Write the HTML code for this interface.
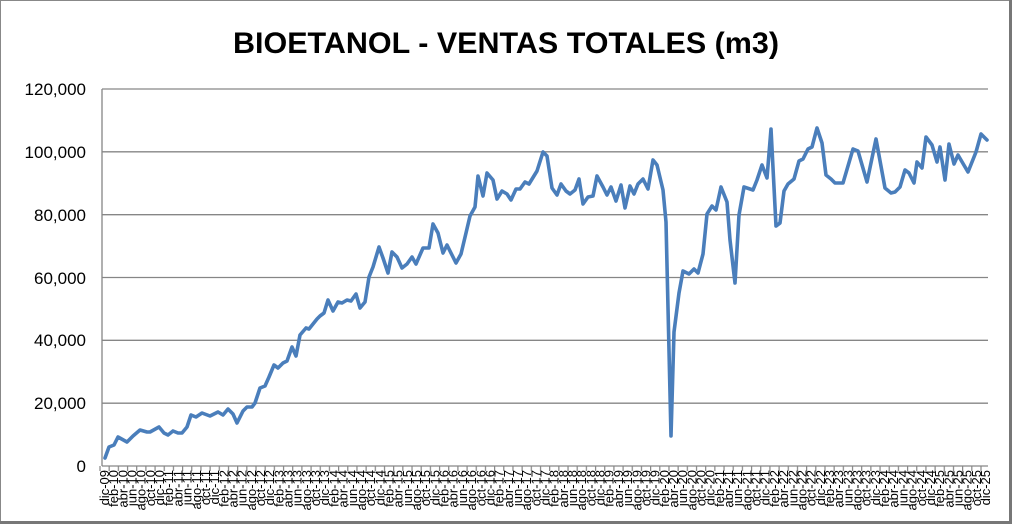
<!DOCTYPE html>
<html><head><meta charset="utf-8"><style>
html,body{margin:0;padding:0;background:#fff}
svg{display:block}
</style></head><body>
<svg width="1012" height="524" xmlns="http://www.w3.org/2000/svg" font-family="Liberation Sans, Arial, sans-serif">
<defs>
<pattern id="tk" x="99.4" y="466" width="9.177" height="6" patternUnits="userSpaceOnUse">
<rect x="0" y="0" width="1.2" height="6" fill="#868686"/>
</pattern>
</defs>
<rect x="0.5" y="0.5" width="1009" height="521" fill="#fff" stroke="#888" stroke-width="1"/>
<line x1="0" y1="522.5" x2="1012" y2="522.5" stroke="#777" stroke-width="3"/>
<line x1="1010.5" y1="0" x2="1010.5" y2="524" stroke="#777" stroke-width="3"/>
<text x="506" y="53" text-anchor="middle" font-size="30" font-weight="bold" fill="#000" textLength="546" lengthAdjust="spacingAndGlyphs">BIOETANOL - VENTAS TOTALES (m3)</text>
<g stroke="#868686" stroke-width="1.3">
<line x1="102" y1="89" x2="988" y2="89"/>
<line x1="102" y1="151.8" x2="988" y2="151.8"/>
<line x1="102" y1="214.7" x2="988" y2="214.7"/>
<line x1="102" y1="277.5" x2="988" y2="277.5"/>
<line x1="102" y1="340.3" x2="988" y2="340.3"/>
<line x1="102" y1="403.2" x2="988" y2="403.2"/>
<line x1="102" y1="466" x2="988" y2="466"/>
<line x1="102" y1="89" x2="102" y2="466"/>
</g>
<rect x="99" y="466" width="890" height="5" fill="url(#tk)"/>
<g font-size="17" text-anchor="end" fill="#000">
<text x="86" y="95">120,000</text>
<text x="86" y="158">100,000</text>
<text x="86" y="221">80,000</text>
<text x="86" y="284">60,000</text>
<text x="86" y="346">40,000</text>
<text x="86" y="409">20,000</text>
<text x="86" y="472">0</text>
</g>
<g font-size="13" fill="#000" text-anchor="end">
<text x="109.0" y="470" transform="rotate(-90 109.0 470)">dic-09</text>
<text x="118.2" y="470" transform="rotate(-90 118.2 470)">feb-10</text>
<text x="127.4" y="470" transform="rotate(-90 127.4 470)">abr-10</text>
<text x="136.5" y="470" transform="rotate(-90 136.5 470)">jun-10</text>
<text x="145.7" y="470" transform="rotate(-90 145.7 470)">ago-10</text>
<text x="154.9" y="470" transform="rotate(-90 154.9 470)">oct-10</text>
<text x="164.1" y="470" transform="rotate(-90 164.1 470)">dic-10</text>
<text x="173.2" y="470" transform="rotate(-90 173.2 470)">feb-11</text>
<text x="182.4" y="470" transform="rotate(-90 182.4 470)">abr-11</text>
<text x="191.6" y="470" transform="rotate(-90 191.6 470)">jun-11</text>
<text x="200.8" y="470" transform="rotate(-90 200.8 470)">ago-11</text>
<text x="209.9" y="470" transform="rotate(-90 209.9 470)">oct-11</text>
<text x="219.1" y="470" transform="rotate(-90 219.1 470)">dic-11</text>
<text x="228.3" y="470" transform="rotate(-90 228.3 470)">feb-12</text>
<text x="237.5" y="470" transform="rotate(-90 237.5 470)">abr-12</text>
<text x="246.7" y="470" transform="rotate(-90 246.7 470)">jun-12</text>
<text x="255.8" y="470" transform="rotate(-90 255.8 470)">ago-12</text>
<text x="265.0" y="470" transform="rotate(-90 265.0 470)">oct-12</text>
<text x="274.2" y="470" transform="rotate(-90 274.2 470)">dic-12</text>
<text x="283.4" y="470" transform="rotate(-90 283.4 470)">feb-13</text>
<text x="292.5" y="470" transform="rotate(-90 292.5 470)">abr-13</text>
<text x="301.7" y="470" transform="rotate(-90 301.7 470)">jun-13</text>
<text x="310.9" y="470" transform="rotate(-90 310.9 470)">ago-13</text>
<text x="320.1" y="470" transform="rotate(-90 320.1 470)">oct-13</text>
<text x="329.2" y="470" transform="rotate(-90 329.2 470)">dic-13</text>
<text x="338.4" y="470" transform="rotate(-90 338.4 470)">feb-14</text>
<text x="347.6" y="470" transform="rotate(-90 347.6 470)">abr-14</text>
<text x="356.8" y="470" transform="rotate(-90 356.8 470)">jun-14</text>
<text x="366.0" y="470" transform="rotate(-90 366.0 470)">ago-14</text>
<text x="375.1" y="470" transform="rotate(-90 375.1 470)">oct-14</text>
<text x="384.3" y="470" transform="rotate(-90 384.3 470)">dic-14</text>
<text x="393.5" y="470" transform="rotate(-90 393.5 470)">feb-15</text>
<text x="402.7" y="470" transform="rotate(-90 402.7 470)">abr-15</text>
<text x="411.8" y="470" transform="rotate(-90 411.8 470)">jun-15</text>
<text x="421.0" y="470" transform="rotate(-90 421.0 470)">ago-15</text>
<text x="430.2" y="470" transform="rotate(-90 430.2 470)">oct-15</text>
<text x="439.4" y="470" transform="rotate(-90 439.4 470)">dic-15</text>
<text x="448.5" y="470" transform="rotate(-90 448.5 470)">feb-16</text>
<text x="457.7" y="470" transform="rotate(-90 457.7 470)">abr-16</text>
<text x="466.9" y="470" transform="rotate(-90 466.9 470)">jun-16</text>
<text x="476.1" y="470" transform="rotate(-90 476.1 470)">ago-16</text>
<text x="485.3" y="470" transform="rotate(-90 485.3 470)">oct-16</text>
<text x="494.4" y="470" transform="rotate(-90 494.4 470)">dic-16</text>
<text x="503.6" y="470" transform="rotate(-90 503.6 470)">feb-17</text>
<text x="512.8" y="470" transform="rotate(-90 512.8 470)">abr-17</text>
<text x="522.0" y="470" transform="rotate(-90 522.0 470)">jun-17</text>
<text x="531.1" y="470" transform="rotate(-90 531.1 470)">ago-17</text>
<text x="540.3" y="470" transform="rotate(-90 540.3 470)">oct-17</text>
<text x="549.5" y="470" transform="rotate(-90 549.5 470)">dic-17</text>
<text x="558.7" y="470" transform="rotate(-90 558.7 470)">feb-18</text>
<text x="567.9" y="470" transform="rotate(-90 567.9 470)">abr-18</text>
<text x="577.0" y="470" transform="rotate(-90 577.0 470)">jun-18</text>
<text x="586.2" y="470" transform="rotate(-90 586.2 470)">ago-18</text>
<text x="595.4" y="470" transform="rotate(-90 595.4 470)">oct-18</text>
<text x="604.6" y="470" transform="rotate(-90 604.6 470)">dic-18</text>
<text x="613.7" y="470" transform="rotate(-90 613.7 470)">feb-19</text>
<text x="622.9" y="470" transform="rotate(-90 622.9 470)">abr-19</text>
<text x="632.1" y="470" transform="rotate(-90 632.1 470)">jun-19</text>
<text x="641.3" y="470" transform="rotate(-90 641.3 470)">ago-19</text>
<text x="650.4" y="470" transform="rotate(-90 650.4 470)">oct-19</text>
<text x="659.6" y="470" transform="rotate(-90 659.6 470)">dic-19</text>
<text x="668.8" y="470" transform="rotate(-90 668.8 470)">feb-20</text>
<text x="678.0" y="470" transform="rotate(-90 678.0 470)">abr-20</text>
<text x="687.2" y="470" transform="rotate(-90 687.2 470)">jun-20</text>
<text x="696.3" y="470" transform="rotate(-90 696.3 470)">ago-20</text>
<text x="705.5" y="470" transform="rotate(-90 705.5 470)">oct-20</text>
<text x="714.7" y="470" transform="rotate(-90 714.7 470)">dic-20</text>
<text x="723.9" y="470" transform="rotate(-90 723.9 470)">feb-21</text>
<text x="733.0" y="470" transform="rotate(-90 733.0 470)">abr-21</text>
<text x="742.2" y="470" transform="rotate(-90 742.2 470)">jun-21</text>
<text x="751.4" y="470" transform="rotate(-90 751.4 470)">ago-21</text>
<text x="760.6" y="470" transform="rotate(-90 760.6 470)">oct-21</text>
<text x="769.7" y="470" transform="rotate(-90 769.7 470)">dic-21</text>
<text x="778.9" y="470" transform="rotate(-90 778.9 470)">feb-22</text>
<text x="788.1" y="470" transform="rotate(-90 788.1 470)">abr-22</text>
<text x="797.3" y="470" transform="rotate(-90 797.3 470)">jun-22</text>
<text x="806.5" y="470" transform="rotate(-90 806.5 470)">ago-22</text>
<text x="815.6" y="470" transform="rotate(-90 815.6 470)">oct-22</text>
<text x="824.8" y="470" transform="rotate(-90 824.8 470)">dic-22</text>
<text x="834.0" y="470" transform="rotate(-90 834.0 470)">feb-23</text>
<text x="843.2" y="470" transform="rotate(-90 843.2 470)">abr-23</text>
<text x="852.3" y="470" transform="rotate(-90 852.3 470)">jun-23</text>
<text x="861.5" y="470" transform="rotate(-90 861.5 470)">ago-23</text>
<text x="870.7" y="470" transform="rotate(-90 870.7 470)">oct-23</text>
<text x="879.9" y="470" transform="rotate(-90 879.9 470)">dic-23</text>
<text x="889.0" y="470" transform="rotate(-90 889.0 470)">feb-24</text>
<text x="898.2" y="470" transform="rotate(-90 898.2 470)">abr-24</text>
<text x="907.4" y="470" transform="rotate(-90 907.4 470)">jun-24</text>
<text x="916.6" y="470" transform="rotate(-90 916.6 470)">ago-24</text>
<text x="925.8" y="470" transform="rotate(-90 925.8 470)">oct-24</text>
<text x="934.9" y="470" transform="rotate(-90 934.9 470)">dic-24</text>
<text x="944.1" y="470" transform="rotate(-90 944.1 470)">feb-25</text>
<text x="953.3" y="470" transform="rotate(-90 953.3 470)">abr-25</text>
<text x="962.5" y="470" transform="rotate(-90 962.5 470)">jun-25</text>
<text x="971.6" y="470" transform="rotate(-90 971.6 470)">ago-25</text>
<text x="980.8" y="470" transform="rotate(-90 980.8 470)">oct-25</text>
<text x="990.0" y="470" transform="rotate(-90 990.0 470)">dic-25</text>
</g>
<polyline fill="none" stroke="#4a7ebb" stroke-width="3.6" stroke-linejoin="round" stroke-linecap="round" points="105,458 109,447 114,445 118,437 127,442 133,436 140,430 147,432 150,432 159,427 164,433 168,435 173,431 178,433 182,433 187,427 191,415 196,417 202,413 210,416 218,412 223,415 228,409 233,414 237,423 243,411 247,407 252,407 255,403 260,388 265,386 269,377 274,365 278,368 283,363 287,361 292,347 296,356 300,335 306,328 309,329 317,319 320,316 324,313 328,300 333,311 338,302 342,303 347,300 351,301 356,294 360,308 365,302 369,277 373,267 379,247 383,258 388,273 392,252 397,257 402,268 407,264 412,257 416,264 423,248 429,248 433,224 438,233 443,253 447,245 452,255 456,263 461,254 466,233 470,216 475,207 478,176 483,196 487,173 493,180 497,199 502,191 507,194 511,200 516,189 520,189 525,182 529,184 537,171 543,152 547,156 552,188 557,195 561,184 566,191 570,194 575,190 579,179 583,204 588,197 593,196 597,176 603,187 607,195 611,187 616,201 621,185 625,208 630,186 634,194 638,184 643,179 648,189 653,160 657,165 663,190 666,222 671,436 674,332 679,293 683,271 689,274 694,269 698,273 703,254 707,214 712,206 716,210 721,187 727,202 730,240 735,283 739,215 744,187 753,190 757,180 762,165 767,178 771,129 776,226 780,223 784,191 788,184 794,179 799,161 803,159 808,149 812,147 817,128 822,143 826,175 831,179 835,183 843,183 853,149 858,151 867,182 876,139 885,188 891,193 895,192 900,187 905,170 909,173 914,183 917,162 922,168 926,137 932,145 937,162 940,147 945,180 949,144 954,164 958,155 968,172 976,152 981,134 987,140"/>
</svg>
</body></html>
